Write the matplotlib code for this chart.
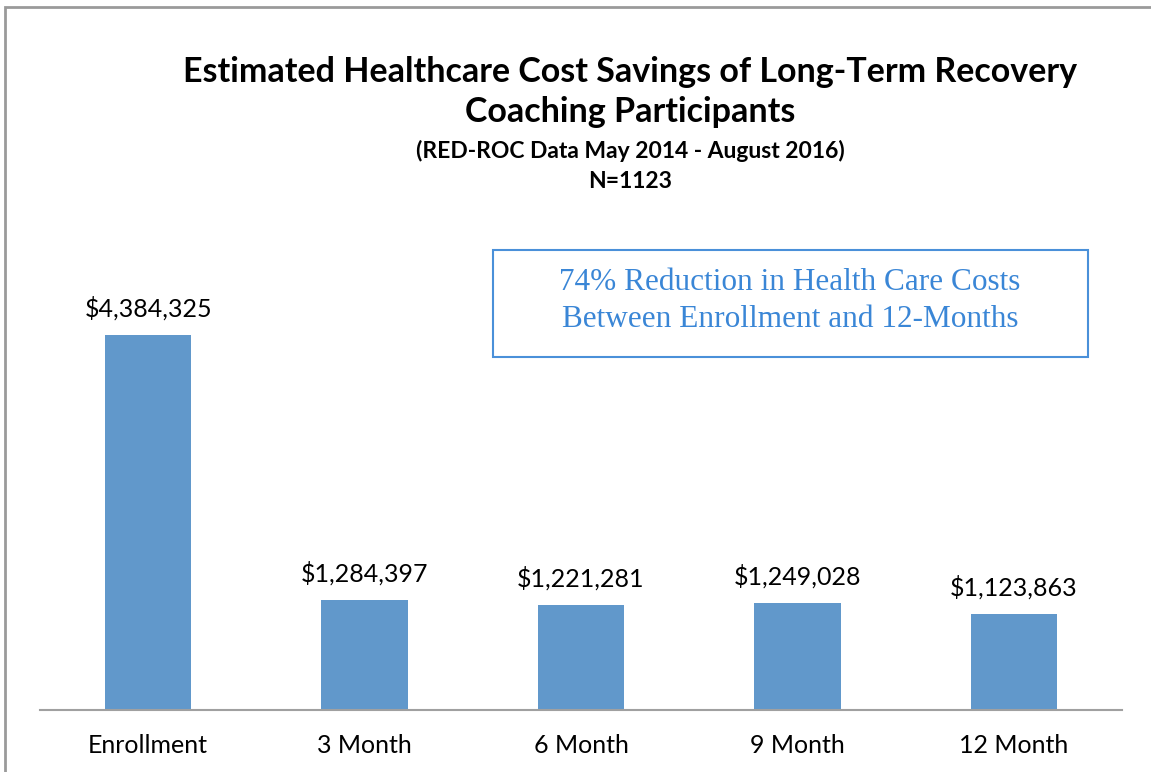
import matplotlib
matplotlib.use("Agg")
from matplotlib import pyplot as plt
from matplotlib.patches import Rectangle

categories = ["Enrollment", "3 Month", "6 Month", "9 Month", "12 Month"]
costs = [4384325, 1284397, 1221281, 1249028, 1123863]
title_lines = "Estimated Healthcare Cost Savings of Long-Term Recovery\nCoaching Participants"
subtitle = "(RED-ROC Data May 2014 - August 2016)\nN=1123"
note = "74% Reduction in Health Care Costs\nBetween Enrollment and 12-Months"

W, H = 1151, 772
fig = plt.figure(figsize=(W / 100, H / 100), dpi=100)
sans = ["Lato", "DejaVu Sans"]

# outer chart frame (left + top only visible)
fig.add_artist(Rectangle((5 / W, -0.1), 1.2, (H - 7) / H + 0.1, transform=fig.transFigure,
                         fill=False, edgecolor="#9a9a9a", linewidth=2))

ax = fig.add_axes([40 / W, (H - 710) / H, (1122 - 40) / W, (710 - 282) / H])
x = range(len(categories))
ax.bar(x, costs, width=0.4, color="#6198cb")
ax.set_xlim(-0.5, len(categories) - 0.5)
ax.set_ylim(0, 5000000)
for i, v in enumerate(costs):
    ax.text(i, v + 170000, f"${v:,}", ha="center", va="bottom", fontsize=18, family=sans)
ax.set_xticks(list(x))
ax.set_xticklabels(categories, fontsize=18, family=sans)
ax.tick_params(axis="x", length=0, pad=17)
ax.set_yticks([])
for s in ["top", "right", "left"]:
    ax.spines[s].set_visible(False)
ax.spines["bottom"].set_color("#a0a0a0")
ax.spines["bottom"].set_linewidth(1.5)

fig.text(630 / W, 1 - 92 / H, title_lines, ha="center", va="center", fontsize=24.5,
         fontweight="bold", family=sans, linespacing=1.3)
fig.text(630 / W, 1 - 166 / H, subtitle, ha="center", va="center", fontsize=16.5,
         fontweight="bold", family=sans, linespacing=1.55)

fig.add_artist(Rectangle((493 / W, 1 - 357 / H), (1088 - 493) / W, (357 - 250) / H,
                         transform=fig.transFigure, fill=False, edgecolor="#4a90d9", linewidth=1.5))
fig.text(790 / W, 1 - 301 / H, note, ha="center", va="center", fontsize=22.5,
         color="#3a86d6", family=["Liberation Serif", "DejaVu Serif"], linespacing=1.4)

fig.savefig("out.png", dpi=100)
